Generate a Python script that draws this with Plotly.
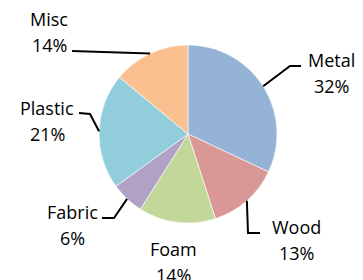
import math
import plotly.graph_objects as go

categories = ["Metal", "Wood", "Foam", "Fabric", "Plastic", "Misc"]
values = [32, 13, 14, 6, 21, 14]
colors = ["#95B3D7", "#D99795", "#C4D79B", "#B2A1C7", "#92CDDC", "#FAC090"]

W, H = 363, 280
cx, cy, r = 188, 134, 89  # pie centre/radius in px (layout)
line_gap = 26  # px between label lines

# label block centres (px) and leader elbow offsets (layout only)
label_pos = {"Metal": (331, 73), "Wood": (296, 240), "Foam": (173, 262),
             "Fabric": (72, 225), "Plastic": (47, 121), "Misc": (49, 32)}
leader = {"Metal": [(290, 66), (301, 66)], "Wood": [(248, 233), (260, 233)],
          "Fabric": [(114, 218), (102, 218)], "Plastic": [(90, 114), (79, 113)],
          "Misc": [(72, 51)], "Foam": None}

def px(x, y):
    return x / W, 1 - y / H

fig = go.Figure(go.Pie(
    labels=categories, values=values, sort=False, direction="clockwise",
    rotation=0, textinfo="none", hoverinfo="label+percent",
    marker=dict(colors=colors, line=dict(color="white", width=0.6)),
    domain=dict(x=[(cx - r) / W, (cx + r) / W], y=[1 - (cy + r) / H, 1 - (cy - r) / H]),
    showlegend=False,
))

total = sum(values)
cum = 0
annotations, shapes = [], []
font = dict(family="Open Sans", size=18, color="#000000")
for cat, v in zip(categories, values):
    mid = (cum + v / 2) / total * 2 * math.pi
    cum += v
    ex, ey = cx + r * math.sin(mid), cy - r * math.cos(mid)
    lx, ly = label_pos[cat]
    for txt, dy in ((cat, -line_gap / 2), (f"{round(v / total * 100)}%", line_gap / 2)):
        ax_, ay_ = px(lx, ly + dy)
        annotations.append(dict(x=ax_, y=ay_, xref="paper", yref="paper", text=txt,
                                showarrow=False, xanchor="center", yanchor="middle", font=font))
    if leader[cat]:
        pts = [(ex, ey)] + leader[cat]
        path = "M " + " L ".join(f"{px(x, y)[0]} {px(x, y)[1]}" for x, y in pts)
        shapes.append(dict(type="path", path=path, xref="paper", yref="paper",
                           line=dict(color="black", width=2)))

fig.update_layout(width=W, height=H, margin=dict(l=0, r=0, t=0, b=0),
                  paper_bgcolor="white", plot_bgcolor="white",
                  annotations=annotations, shapes=shapes)
fig.write_html("out.html", config={"displayModeBar": False},
               post_script="document.body.style.margin='0';document.body.style.overflow='hidden';")
